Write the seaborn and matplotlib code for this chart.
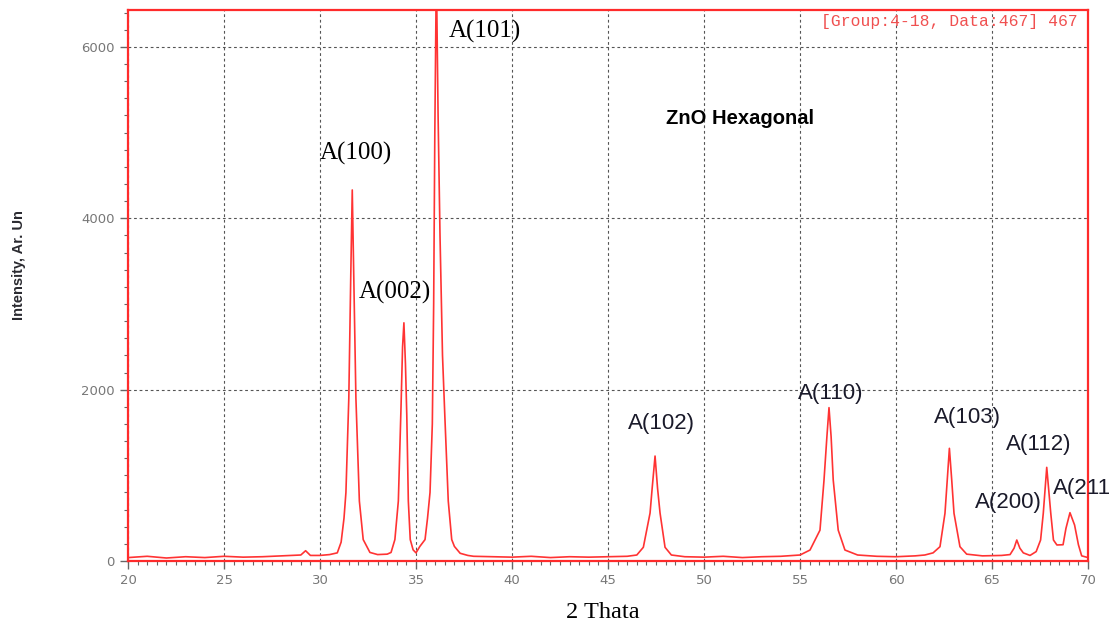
import numpy as np
import pandas as pd
import matplotlib
matplotlib.use("Agg")
import matplotlib.pyplot as plt
import seaborn as sns
from matplotlib.ticker import MultipleLocator

# XRD pattern (2 theta, intensity)
two_theta = [20.0, 21.0, 22.0, 23.0, 24.0, 25.0, 26.0, 27.0, 28.0, 29.0, 29.25, 29.5, 30.0, 30.5,
             30.9, 31.1, 31.25, 31.35, 31.5, 31.6, 31.68, 31.76, 31.87, 32.05, 32.25, 32.6, 33.0, 33.5,
             33.7, 33.9, 34.08, 34.22, 34.3, 34.37, 34.45, 34.52, 34.6, 34.7, 34.85, 35.0, 35.2, 35.47,
             35.6, 35.73, 35.85, 35.92, 35.98, 36.06, 36.15, 36.25, 36.38, 36.5, 36.68, 36.86, 37.0,
             37.3, 37.7, 38.0, 39.0, 40.0, 41.0, 42.0, 43.0, 44.0, 45.0, 46.0, 46.5, 46.84, 47.19,
             47.3, 47.45, 47.58, 47.71, 47.97, 48.3, 49.0, 50.0, 51.0, 52.0, 53.0, 54.0, 55.0, 55.52,
             56.04, 56.25, 56.4, 56.51, 56.62, 56.73, 56.99, 57.34, 58.0, 59.0, 60.0, 61.0, 61.5,
             61.93, 62.29, 62.55, 62.67, 62.78, 62.9, 63.02, 63.33, 63.68, 64.5, 65.5, 65.94, 66.15,
             66.29, 66.45, 66.63, 66.98, 67.3, 67.53, 67.67, 67.85, 68.06, 68.2, 68.38, 68.7, 68.85,
             69.06, 69.3, 69.5, 69.67, 70.0]
intensity = [40, 55, 35, 50, 40, 55, 45, 50, 60, 70, 120, 65, 65, 75,
             95, 220, 500, 800, 1900, 3300, 4330, 3300, 1900, 700, 250, 100, 75, 80,
             100, 250, 700, 1800, 2500, 2780, 2300, 1700, 700, 250, 130, 95, 170, 250,
             500, 800, 1600, 3000, 5000, 6900, 5200, 3800, 2400, 1700, 700, 250, 170,
             90, 65, 55, 50, 45, 55, 40, 50, 45, 50, 55, 70, 160, 560,
             850, 1225, 850, 560, 160, 70, 50, 45, 55, 40, 50, 55, 70, 128,
             360, 945, 1450, 1790, 1450, 945, 360, 128, 70, 55, 50, 60, 70,
             95, 167, 557, 950, 1315, 950, 557, 167, 80, 60, 65, 75, 150,
             245, 150, 95, 65, 110, 245, 557, 1093, 557, 245, 187, 190, 380,
             564, 420, 190, 60, 40]

peak_labels = ["A(100)", "A(002)", "A(101)"]
peak_label_x = [30.0, 32.03, 36.72]
peak_label_y = [4760, 3140, 6186]

peak_labels2 = ["A(102)", "A(110)", "A(103)", "A(200)", "A(112)", "A(211"]
peak_label2_x = [46.04, 54.9, 61.98, 64.1, 65.73, 68.18]
peak_label2_y = [1600, 1950, 1670, 677, 1354, 852]

df = pd.DataFrame({"two_theta": two_theta, "intensity": intensity})

sns.set_style("white")
fig = plt.figure(figsize=(11.15, 6.29), dpi=100)
ax = fig.add_axes([0.1148, 0.1081, 0.861, 0.8759])

sns.lineplot(data=df, x="two_theta", y="intensity", ax=ax, color="#ff3333",
             linewidth=1.2, errorbar=None, sort=True)

ax.set_xlim(20, 70)
ax.set_ylim(0, 6430)
ax.xaxis.set_major_locator(MultipleLocator(5))
ax.xaxis.set_minor_locator(MultipleLocator(0.5))
ax.yaxis.set_major_locator(MultipleLocator(2000))
ax.yaxis.set_minor_locator(MultipleLocator(200))
ax.tick_params(which="major", direction="out", length=6, width=1, color="#666666",
               labelcolor="#777777", labelsize=9.5, bottom=True, left=True)
ax.tick_params(which="minor", direction="out", length=3, width=0.8, color="#666666",
               bottom=True, left=True)
ax.grid(True, which="major", color="#555555", linestyle=(0, (2.5, 2.5)), linewidth=0.8)
ax.set_xlabel("")
ax.set_ylabel("")
for sp in ax.spines.values():
    sp.set_color("#ff2b2b")
    sp.set_linewidth(1.6)

for lab, x, y in zip(peak_labels, peak_label_x, peak_label_y):
    ax.text(x, y, lab, family="Liberation Serif", fontsize=18, color="black",
            ha="left", va="center")
for lab, x, y in zip(peak_labels2, peak_label2_x, peak_label2_y):
    ax.text(x, y, lab, family="Liberation Sans", fontsize=16, color="#1a1a2a",
            ha="left", va="center", clip_on=False)

ax.text(48.0, 5160, "ZnO Hexagonal", family="Liberation Sans", fontweight="bold",
        fontsize=14.5, color="black", ha="left", va="center")
ax.text(69.48, 6300, "[Group:4-18, Data:467] 467", family="Liberation Mono",
        fontsize=11.8, color="#f05050", ha="right", va="center")

fig.text(0.541, 0.027, "2 Thata", family="Liberation Serif", fontsize=17.5,
         color="black", ha="center", va="center")
fig.text(0.017, 0.578, "Intensity, Ar. Un", family="Liberation Sans",
         fontweight="bold", fontsize=10.5, color="#2a2a30", rotation=90,
         ha="center", va="center")

fig.savefig("out.png", dpi=100)
